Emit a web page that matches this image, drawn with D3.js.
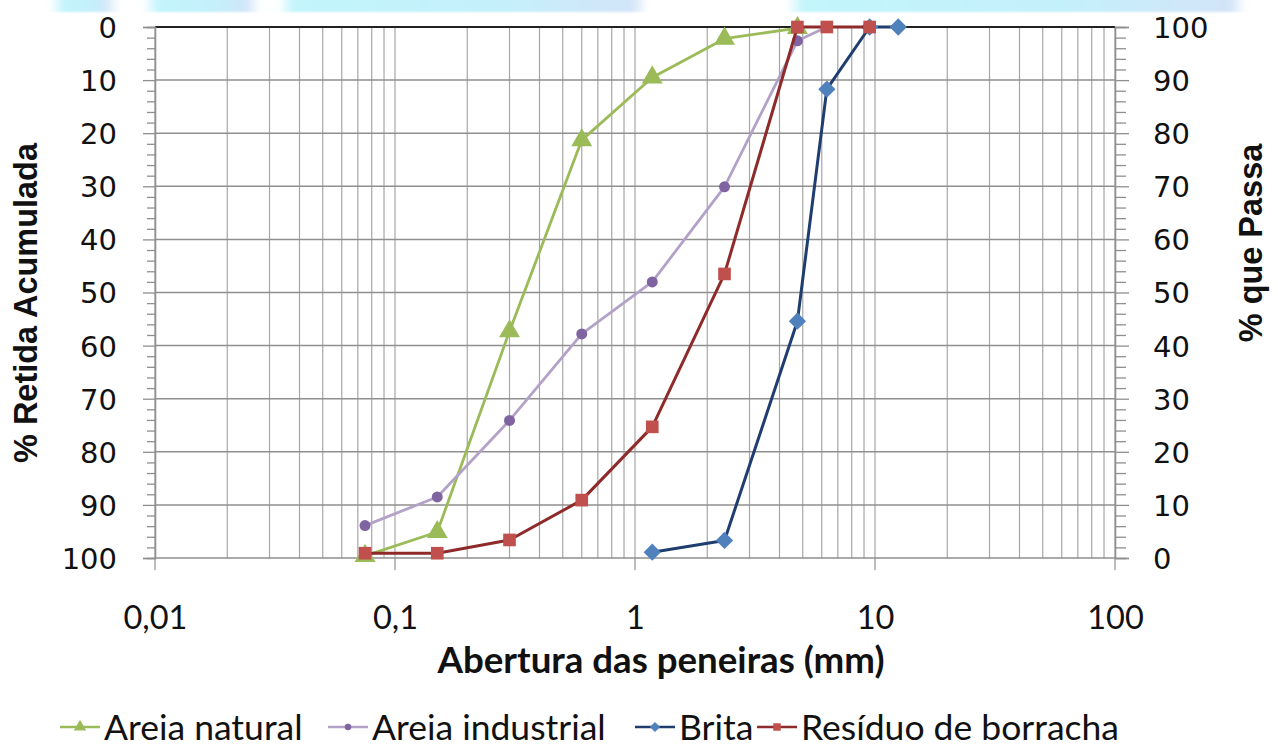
<!DOCTYPE html>
<html>
<head>
<meta charset="utf-8">
<script src="https://cdn.jsdelivr.net/npm/d3@7"></script>
<style>
  html, body { margin: 0; padding: 0; background: #fff; }
  svg { display: block; }
</style>
</head>
<body>
<svg id="chart" width="1278" height="747"></svg>
<script>
// ---------- data ----------
const sieves = [0.075, 0.15, 0.3, 0.6, 1.18, 2.36, 4.75, 6.3, 9.5, 12.5];
const areiaNatural    = [99.6, 95.1, 57.3, 21.3, 9.5, 2.2, 0.2, null, null, null];
const areiaIndustrial = [93.9, 88.5, 74.1, 57.8, 48.0, 30.1, 2.6, 0.0, null, null];
const brita           = [null, null, null, null, 98.9, 96.7, 55.4, 11.7, 0.0, 0.0];
const residuo         = [99.1, 99.1, 96.6, 89.1, 75.3, 46.5, 0.0, 0.0, 0.0, null];
const seriesNames = ["Areia natural", "Areia industrial", "Brita", "Resíduo de borracha"];
const xTickValues = [0.01, 0.1, 1, 10, 100];
const xTickLabels = ["0,01", "0,1", "1", "10", "100"];
const yTickValues = [0, 10, 20, 30, 40, 50, 60, 70, 80, 90, 100];
const xTitle = "Abertura das peneiras (mm)";
const yLeftTitle = "% Retida Acumulada";
const yRightTitle = "% que Passa";

// ---------- layout ----------
const svg = d3.select("#chart");
const L = 155, R = 1115, T = 27, B = 558;
const x = d3.scaleLog().domain([0.01, 100]).range([L, R]);
const yL = d3.scaleLinear().domain([0, 100]).range([T, B]);
const yR = d3.scaleLinear().domain([100, 0]).range([T, B]);

const calib = "Lato, 'Open Sans', sans-serif";
const verd = "'DejaVu Sans', Verdana, sans-serif";
const arialB = "'Liberation Sans', Arial, sans-serif";

function fitSize(text, family, weight, target) {
  const t = svg.append("text").attr("font-family", family).attr("font-weight", weight)
    .attr("font-size", 100).text(text);
  const w = t.node().getComputedTextLength();
  t.remove();
  return 100 * target / w;
}

// top decorative band (background artefact of the source image)
const defs = svg.append("defs");
const grad = defs.append("linearGradient").attr("id", "bandGrad").attr("x1", 0).attr("x2", 1).attr("y1", 0).attr("y2", 0);
grad.append("stop").attr("offset", "0%").attr("stop-color", "#c2f5fc");
grad.append("stop").attr("offset", "60%").attr("stop-color", "#c4f0fb");
grad.append("stop").attr("offset", "100%").attr("stop-color", "#d3e4f8");
defs.append("filter").attr("id", "soft").attr("x", "-5%").attr("width", "110%")
  .append("feGaussianBlur").attr("stdDeviation", "6 1");
const band = svg.append("g").attr("filter", "url(#soft)");
[[57, 112], [151, 253], [286, 640], [795, 1238]].forEach(([a, b]) => {
  band.append("rect").attr("x", a).attr("y", -4).attr("width", b - a).attr("height", 16)
    .attr("fill", "url(#bandGrad)");
});

// ---------- grid ----------
const grid = svg.append("g");
const vLines = [];
[0.01, 0.1, 1, 10].forEach(d => { for (let k = 1; k <= 9; k++) vLines.push(d * k); });
vLines.push(100);
grid.selectAll("line.v").data(vLines).join("line")
  .attr("x1", d => x(d)).attr("x2", d => x(d))
  .attr("y1", T).attr("y2", B)
  .attr("stroke", "#a6a6a6").attr("stroke-width", 1.2);
grid.selectAll("line.h").data(yTickValues).join("line")
  .attr("x1", L).attr("x2", R)
  .attr("y1", d => yL(d)).attr("y2", d => yL(d))
  .attr("stroke", "#8f8f8f").attr("stroke-width", 1.5);
// decade tick marks below bottom
grid.selectAll("line.xt").data(xTickValues).join("line")
  .attr("x1", d => x(d)).attr("x2", d => x(d))
  .attr("y1", B).attr("y2", B + 12)
  .attr("stroke", "#8f8f8f").attr("stroke-width", 1.2);

// top axis line
svg.append("line").attr("x1", L).attr("x2", R).attr("y1", T).attr("y2", T)
  .attr("stroke", "#222").attr("stroke-width", 2);

// ---------- left axis ----------
const leftAxis = d3.axisLeft(yL).tickValues(yTickValues).tickSize(12).tickPadding(26).tickFormat(d3.format("d"));
const gL = svg.append("g").attr("transform", `translate(${L},0)`).call(leftAxis);
gL.selectAll(".tick text").attr("font-family", verd).attr("font-size", 29).attr("fill", "#111")
  .attr("dy", "0.36em");
const gLm = svg.append("g").attr("transform", `translate(${L},0)`)
  .call(d3.axisLeft(yL).tickValues(d3.range(0, 101, 2).filter(v => v % 10 !== 0)).tickSize(8).tickFormat(""));
[gL, gLm].forEach(g => { g.selectAll("line, path").attr("stroke", "#8f8f8f").attr("stroke-width", 1.3); });

// ---------- right axis ----------
const rightAxis = d3.axisRight(yR).tickValues(yTickValues).tickSize(14).tickPadding(26).tickFormat(d3.format("d"));
const gR = svg.append("g").attr("transform", `translate(${R},0)`).call(rightAxis);
gR.selectAll(".tick text").attr("font-family", verd).attr("font-size", 29).attr("fill", "#111")
  .attr("x", 38).attr("dy", "0.36em");
const gRm = svg.append("g").attr("transform", `translate(${R},0)`)
  .call(d3.axisRight(yR).tickValues(d3.range(0, 101, 2).filter(v => v % 10 !== 0)).tickSize(11).tickFormat(""));
[gR, gRm].forEach(g => { g.selectAll("line, path").attr("stroke", "#8f8f8f").attr("stroke-width", 1.3); });

// ---------- x labels ----------
const xFont = fitSize("0,01", calib, 400, 64);
const gX = svg.append("g").attr("transform", `translate(0,${B})`)
  .call(d3.axisBottom(x).tickValues(xTickValues).tickSize(0).tickPadding(0)
    .tickFormat((d, i) => xTickLabels[i]));
gX.select("path").remove();
gX.selectAll(".tick text").attr("font-family", calib).attr("font-size", xFont)
  .attr("fill", "#111").attr("y", 71).attr("dy", 0);

svg.append("text").attr("x", 661).attr("y", 673).attr("text-anchor", "middle")
  .attr("font-family", calib).attr("font-weight", 700)
  .attr("font-size", fitSize(xTitle, calib, 700, 447)).attr("fill", "#111").text(xTitle);

const titleSize = fitSize(yLeftTitle, arialB, 700, 320);
svg.append("text").attr("transform", "translate(37,303) rotate(-90)").attr("text-anchor", "middle")
  .attr("font-family", arialB).attr("font-weight", 700)
  .attr("font-size", titleSize).attr("fill", "#111").text(yLeftTitle);
svg.append("text").attr("transform", "translate(1262,243) rotate(-90)").attr("text-anchor", "middle")
  .attr("font-family", arialB).attr("font-weight", 700)
  .attr("font-size", titleSize).attr("fill", "#111").text(yRightTitle);

// ---------- series ----------
const series = [
  { name: seriesNames[0], vals: areiaNatural, line: "#9bbb59", mark: "#9bbb59", sym: d3.symbolTriangle, size: 190, lw: 2.8 },
  { name: seriesNames[1], vals: areiaIndustrial, line: "#b3a2c7", mark: "#8064a2", sym: d3.symbolCircle, size: 95, lw: 2.8 },
  { name: seriesNames[2], vals: brita, line: "#1f3d6e", mark: "#4f81bd", sym: d3.symbolDiamond2, size: 190, lw: 3 },
  { name: seriesNames[3], vals: residuo, line: "#8e2a2a", mark: "#c0504d", sym: d3.symbolSquare, size: 160, lw: 3 }
];

const lineGen = d3.line().defined(d => d.v !== null).x(d => x(d.s)).y(d => yL(d.v));
series.forEach(s => {
  const pts = sieves.map((sv, i) => ({ s: sv, v: s.vals[i] }));
  const g = svg.append("g");
  g.append("path").datum(pts).attr("d", lineGen).attr("fill", "none")
    .attr("stroke", s.line).attr("stroke-width", s.lw).attr("stroke-linejoin", "round");
  g.selectAll("path.m").data(pts.filter(p => p.v !== null)).join("path")
    .attr("class", "m")
    .attr("transform", p => `translate(${x(p.s)},${yL(p.v)})`)
    .attr("d", d3.symbol().type(s.sym).size(s.size))
    .attr("fill", s.mark);
});

// ---------- legend ----------
const legFont = fitSize(seriesNames[3], calib, 400, 318);
const legX = [60, 328, 635, 757];
const legY = 727;
series.forEach((s, i) => {
  const g = svg.append("g").attr("transform", `translate(${legX[i]},${legY})`);
  g.append("line").attr("x1", 0).attr("x2", 40).attr("y1", 0).attr("y2", 0)
    .attr("stroke", s.line).attr("stroke-width", 2.5);
  g.append("path").attr("transform", "translate(20,0)")
    .attr("d", d3.symbol().type(s.sym).size(s.size * 0.35)).attr("fill", s.mark);
  g.append("text").attr("x", 44).attr("y", 0).attr("dy", "0.36em")
    .attr("font-family", calib).attr("font-size", legFont).attr("fill", "#111").text(s.name);
});
</script>
</body>
</html>
